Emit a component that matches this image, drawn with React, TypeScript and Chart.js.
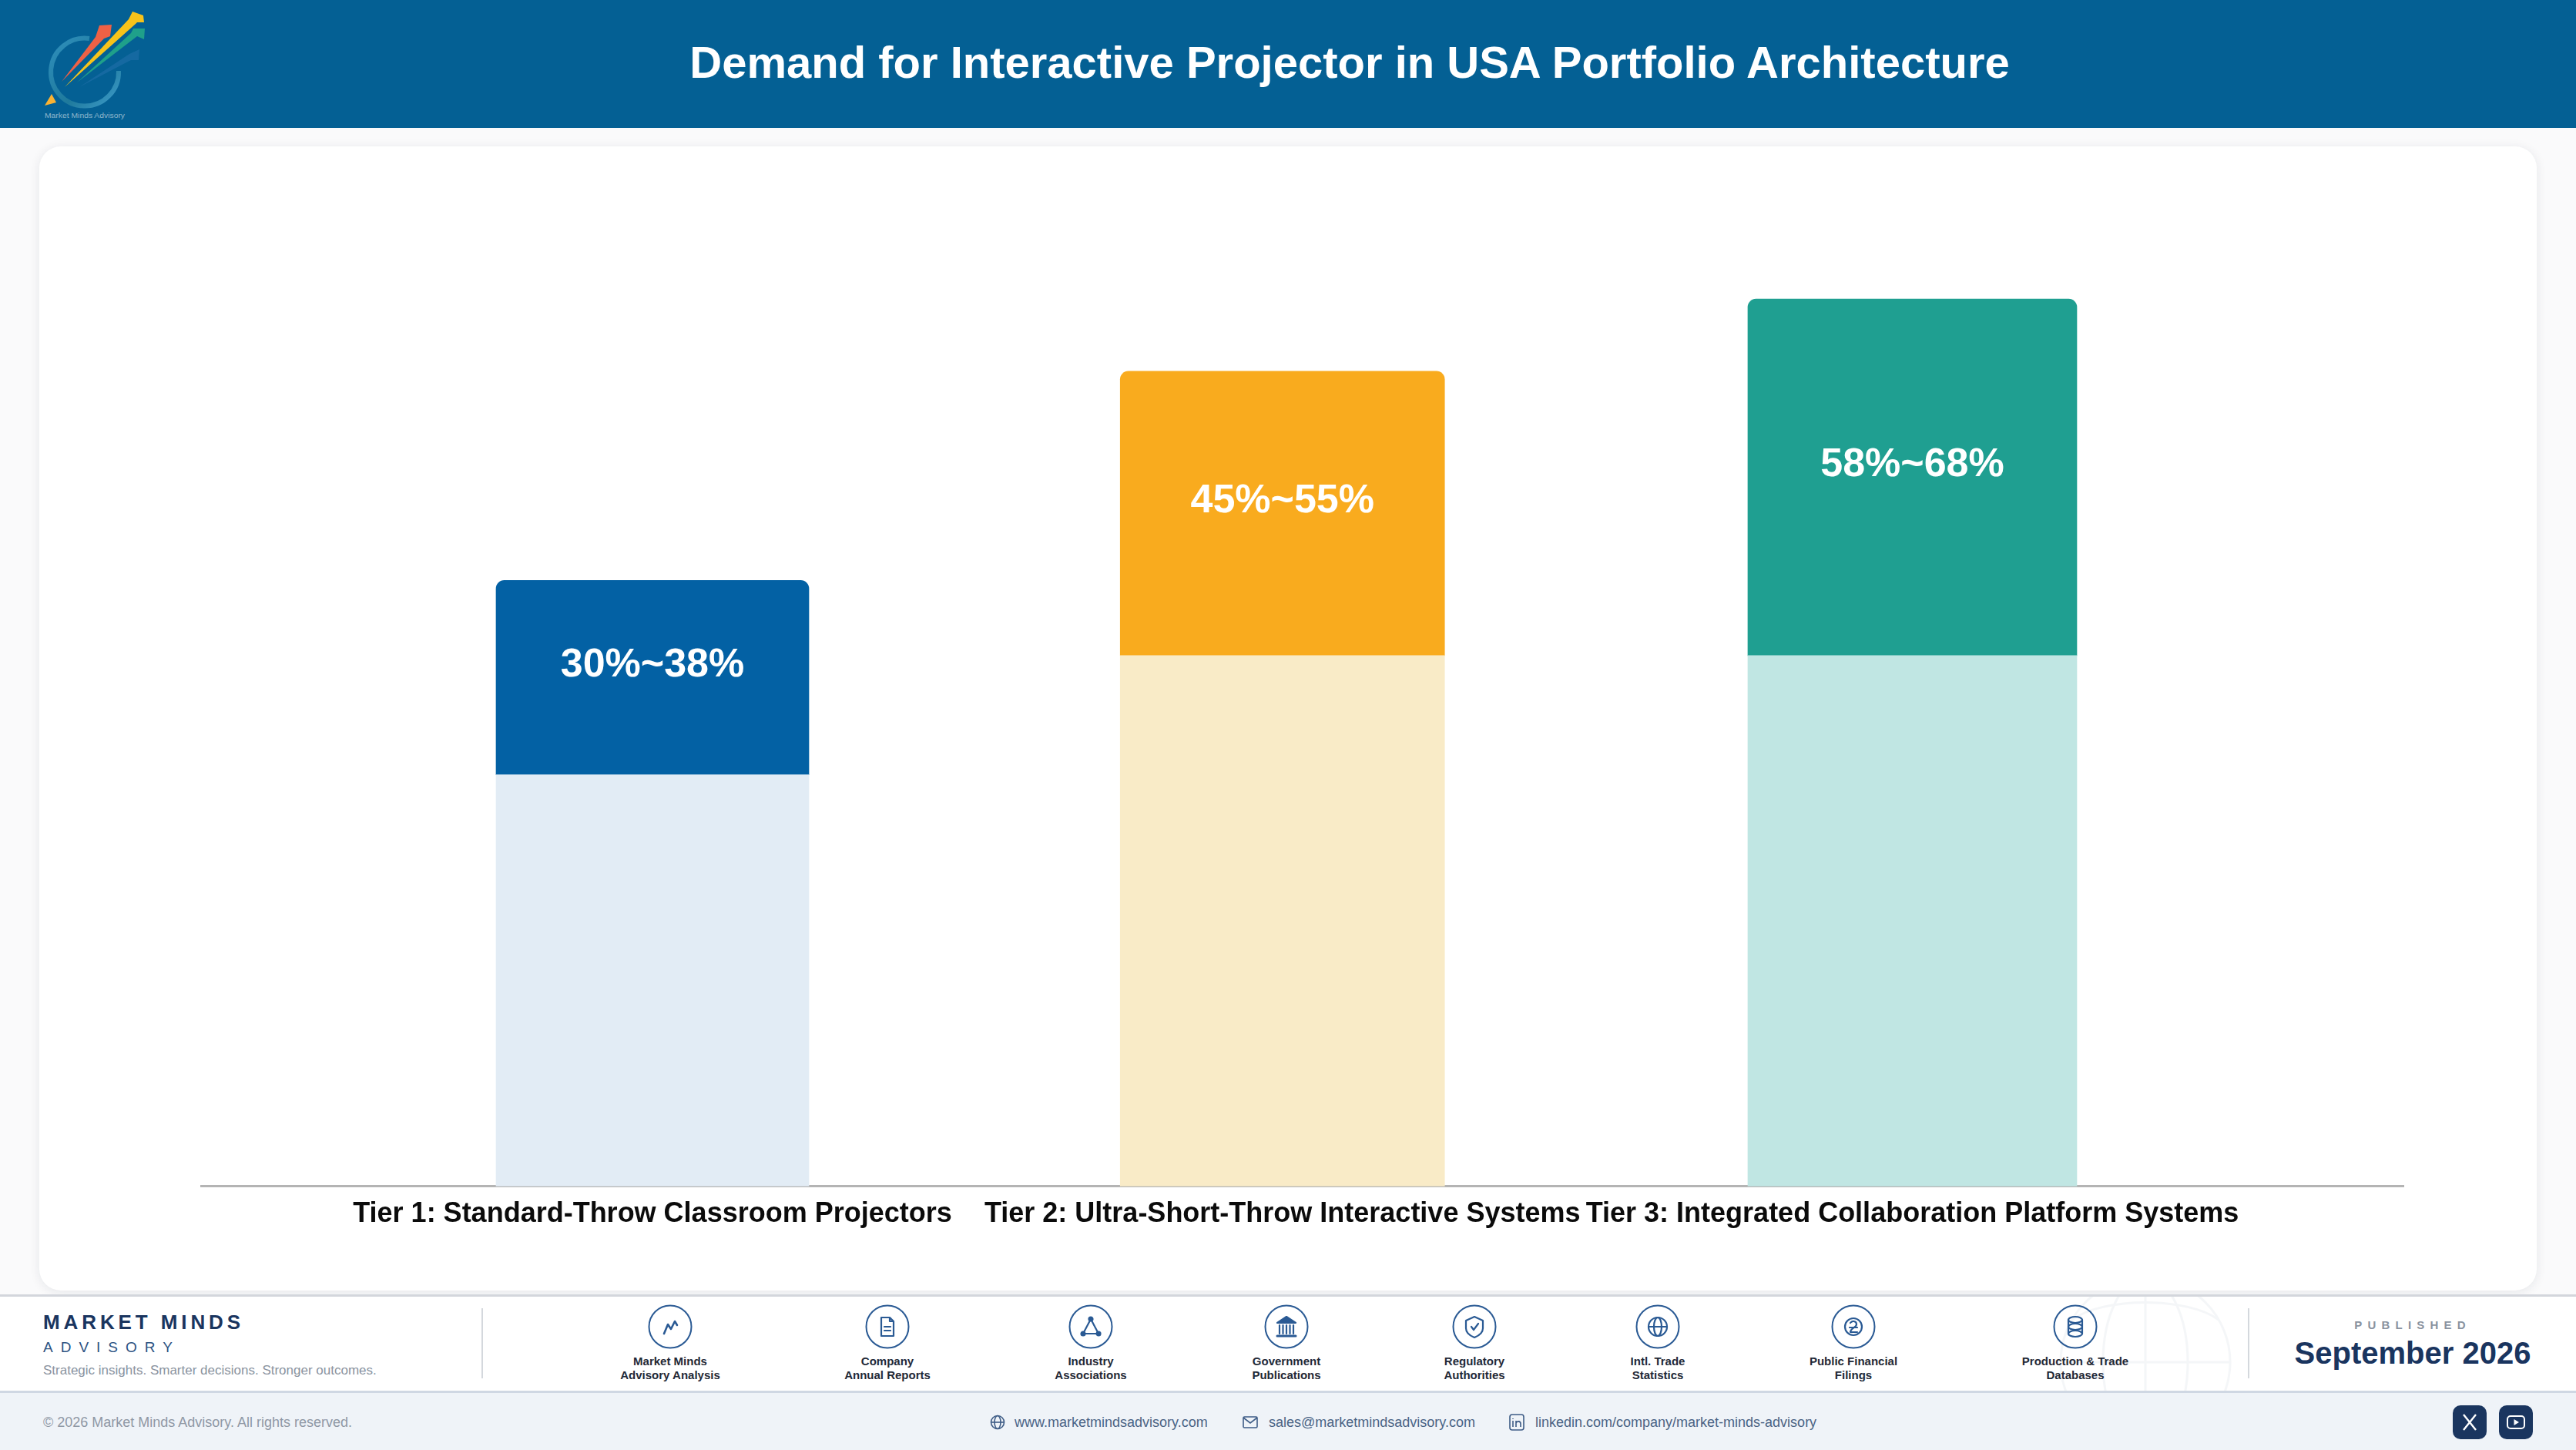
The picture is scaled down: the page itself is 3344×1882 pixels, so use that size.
import React, { useEffect, useRef } from "react";
import { Chart, registerables } from "chart.js";

Chart.register(...registerables);

const FONT = '"Liberation Sans", Arial, sans-serif';

const titleText = "Demand for Interactive Projector in USA Portfolio Architecture";
const tierLabels = [
  "Tier 1: Standard-Throw Classroom Projectors",
  "Tier 2: Ultra-Short-Throw Interactive Systems",
  "Tier 3: Integrated Collaboration Platform Systems",
];
const tierPositions = [1, 2, 3];
const rangeLabels = ["30%~38%", "45%~55%", "58%~68%"];
const lowerBlock = [41.1, 53, 53];
const upperBlock = [19.4, 28.4, 35.6];
const solidColors = ["#0361A4", "#F9AB1E", "#1F9F91"];
const paleColors = ["#E2ECF5", "#F9EBC7", "#C0E6E3"];
const barWidths = [406, 421, 427];

const sourceLabels = [
  ["Market Minds", "Advisory Analysis"],
  ["Company", "Annual Reports"],
  ["Industry", "Associations"],
  ["Government", "Publications"],
  ["Regulatory", "Authorities"],
  ["Intl. Trade", "Statistics"],
  ["Public Financial", "Filings"],
  ["Production & Trade", "Databases"],
];
const sourceCentres = [870, 1152, 1416, 1670, 1914, 2152, 2406, 2694];

const rangeLabelPlugin = {
  id: "rangeLabels",
  afterDatasetsDraw(chart: any) {
    const { ctx } = chart;
    ctx.save();
    ctx.fillStyle = "#FFFFFF";
    ctx.font = `bold 52px ${FONT}`;
    ctx.textAlign = "center";
    ctx.textBaseline = "middle";
    rangeLabels.forEach((label, i) => {
      const bar = chart.getDatasetMeta(i * 2 + 1).data[0];
      ctx.fillText(label, bar.x, (bar.y + bar.base) / 2 - 16);
    });
    ctx.restore();
  },
};

function TierChart() {
  const ref = useRef<HTMLCanvasElement>(null);
  useEffect(() => {
    const datasets: any[] = [];
    tierPositions.forEach((x, i) => {
      datasets.push({
        label: `${tierLabels[i]} base`,
        data: [{ x, y: lowerBlock[i] }],
        backgroundColor: paleColors[i],
        barThickness: barWidths[i],
        borderWidth: 0,
      });
      datasets.push({
        label: rangeLabels[i],
        data: [{ x, y: upperBlock[i] }],
        backgroundColor: solidColors[i],
        barThickness: barWidths[i],
        borderWidth: 0,
        borderRadius: { topLeft: 11, topRight: 11, bottomLeft: 0, bottomRight: 0 },
        borderSkipped: "bottom",
      });
    });
    const chart = new Chart(ref.current as HTMLCanvasElement, {
      type: "bar",
      data: { datasets },
      plugins: [rangeLabelPlugin],
      options: {
        responsive: false,
        animation: false,
        devicePixelRatio: 1,
        layout: { padding: { left: 210, right: 173, top: 50, bottom: 62 } },
        plugins: { legend: { display: false }, tooltip: { enabled: false } },
        scales: {
          x: {
            type: "linear",
            stacked: true,
            offset: false,
            min: 0.2834,
            max: 3.7796,
            afterBuildTicks(scale: any) {
              scale.ticks = tierPositions.map((value) => ({ value }));
            },
            grid: { display: false, drawTicks: false, offset: false },
            border: { display: true, color: "#B4B4B4", width: 3 },
            ticks: {
              autoSkip: false,
              maxRotation: 0,
              minRotation: 0,
              padding: 15,
              color: "#0B0B0B",
              font: { family: FONT, size: 36, weight: "bold" },
              callback: (_v: any, i: number) => tierLabels[i],
            },
          },
          y: {
            stacked: true,
            display: false,
            min: 0,
            max: 100,
            grid: { display: false },
          },
        },
      },
    } as any);
    return () => chart.destroy();
  }, []);
  return (
    <canvas
      ref={ref}
      width={3242}
      height={1485}
      style={{ position: "absolute", left: 51, top: 190, width: 3242, height: 1485 }}
    />
  );
}

function T({ x, y, size, color, bold, spacing, align = "left", children }: any) {
  const tx = align === "center" ? "-50%" : "0";
  return (
    <div
      style={{
        position: "absolute",
        left: x,
        top: y,
        transform: `translate(${tx},-50%)`,
        font: `${bold ? "bold " : ""}${size}px ${FONT}`,
        color,
        letterSpacing: spacing,
        whiteSpace: "nowrap",
        lineHeight: 1,
      }}
    >
      {children}
    </div>
  );
}

const ICON = "#2A5A94";
const sourceIcons = [
  <path d="M-8 9 L-3 -3 L1 3 L6 -7 L9 -2" strokeWidth="2.6" />,
  <g>
    <path d="M-8 -12 H3 L8 -7 V12 H-8 Z M3 -12 V-7 H8" />
    <path d="M-4 0 H4 M-4 5 H4" />
  </g>,
  <g>
    <path d="M0 -10 L-10 9 H10 Z" />
    <circle cx="0" cy="-10" r="2.5" fill={ICON} />
    <circle cx="-10" cy="9" r="2.5" fill={ICON} />
    <circle cx="10" cy="9" r="2.5" fill={ICON} />
  </g>,
  <g>
    <path d="M-12 -5 L0 -13 L12 -5 Z" fill={ICON} />
    <path d="M-9 -2 V9 M-4.5 -2 V9 M0 -2 V9 M4.5 -2 V9 M9 -2 V9" />
    <path d="M-12 12 H12" strokeWidth="3" />
  </g>,
  <g>
    <path d="M0 -13 L11 -8 V2 C11 8 5 12 0 14 C-5 12 -11 8 -11 2 V-8 Z" />
    <path d="M-4 0 L-1 4 L5 -4" />
  </g>,
  <g>
    <circle cx="0" cy="0" r="12" />
    <ellipse cx="0" cy="0" rx="5" ry="12" />
    <path d="M-12 0 H12" />
  </g>,
  <g>
    <circle cx="0" cy="0" r="11" />
    <path d="M-4 -5 C-2 -8 4 -8 4 -3 C4 1 -4 2 -4 7 H5 M-5 1 H5" />
  </g>,
  <g>
    <ellipse cx="0" cy="-9" rx="9" ry="4" />
    <ellipse cx="0" cy="0" rx="9" ry="4" />
    <ellipse cx="0" cy="9" rx="9" ry="4" />
    <path d="M-9 -9 V9 M9 -9 V9" />
  </g>,
];

function Logo() {
  return (
    <svg style={{ position: "absolute", left: 0, top: 0 }} width={240} height={166}>
      <defs>
        <linearGradient id="ring" x1="0" y1="0" x2="1" y2="1">
          <stop offset="0" stopColor="#2F8FBC" />
          <stop offset="0.6" stopColor="#1F7A9C" />
          <stop offset="1" stopColor="#3E9CCB" />
        </linearGradient>
      </defs>
      <path d="M116 50 A44 44 0 1 0 154 92" fill="none" stroke="url(#ring)" strokeWidth="6" />
      <path d="M103 113 L168 70 L181 64 L180 78 L170 78 Z" fill="#1D6EA6" opacity="0.7" />
      <path d="M100 107 L170 43 L173 37 L188 37 L187 51 L178 47 Z" fill="#1FA08A" />
      <path d="M84 113 L167 25 L172 15 L186 20 L187 29 L178 29 L176 31 Z" fill="#F7C31A" />
      <path d="M80 106 L124 48 L129 33 L145 32 L143 47 L135 50 Z" fill="#EE6145" />
      <path d="M58 137 L67 122 L73 133 Z" fill="#F9B233" />
      <text x="58" y="153" fill="#8FB7CC" fontFamily={FONT} fontSize="9" textLength="104" lengthAdjust="spacingAndGlyphs">
        Market Minds Advisory
      </text>
    </svg>
  );
}

function SmallIcon({ x, children }: any) {
  return (
    <svg
      style={{ position: "absolute", left: x - 12, top: 1834 }}
      width={24}
      height={24}
      viewBox="-12 -12 24 24"
      fill="none"
      stroke="#3E5C86"
      strokeWidth="1.6"
    >
      {children}
    </svg>
  );
}

export default function App() {
  useEffect(() => {
    document.body.style.margin = "0";
  }, []);
  return (
    <div
      style={{
        position: "absolute",
        left: 0,
        top: 0,
        width: 3344,
        height: 1882,
        overflow: "hidden",
        background: "#FAFAFB",
        fontFamily: FONT,
      }}
    >
      <div style={{ position: "absolute", left: 0, top: 0, width: 3344, height: 166, background: "#046094" }} />
      <Logo />
      <T x={1752} y={81} size={58} color="#FFFFFF" bold align="center">
        {titleText}
      </T>

      <div
        style={{
          position: "absolute",
          left: 51,
          top: 190,
          width: 3242,
          height: 1485,
          background: "#FFFFFF",
          borderRadius: 28,
          boxShadow: "0 2px 14px rgba(20,30,50,0.09)",
        }}
      />
      <TierChart />

      <div
        style={{
          position: "absolute",
          left: 0,
          top: 1680,
          width: 3344,
          height: 128,
          background: "#FFFFFF",
          borderTop: "3px solid #D3D6DC",
          borderBottom: "3px solid #CFD7E3",
          boxSizing: "border-box",
        }}
      />
      <svg
        style={{ position: "absolute", left: 2660, top: 1683, opacity: 0.4 }}
        width={250}
        height={122}
        viewBox="0 0 250 122"
        fill="none"
        stroke="#E6EAEE"
        strokeWidth="3"
      >
        <circle cx="125" cy="85" r="110" />
        <ellipse cx="125" cy="85" rx="55" ry="110" />
        <path d="M125 -25 V195 M15 85 H235" />
        <path d="M30 30 C70 0 180 0 220 30" />
      </svg>
      <div style={{ position: "absolute", left: 0, top: 1808, width: 3344, height: 74, background: "#EFF3F8" }} />

      <T x={56} y={1716} size={26} color="#1A355F" bold spacing="4.9px">MARKET MINDS</T>
      <T x={56} y={1748} size={19} color="#2C5282" spacing="10px">ADVISORY</T>
      <T x={56} y={1778} size={17} color="#8A93A0">Strategic insights. Smarter decisions. Stronger outcomes.</T>
      <div style={{ position: "absolute", left: 625, top: 1698, width: 2, height: 91, background: "#D4D8DD" }} />

      {sourceCentres.map((cx, i) => (
        <React.Fragment key={cx}>
          <svg
            style={{ position: "absolute", left: cx - 30, top: 1692 }}
            width={60}
            height={60}
            viewBox="-30 -30 60 60"
            fill="none"
            stroke={ICON}
            strokeWidth="2.2"
            strokeLinecap="round"
            strokeLinejoin="round"
          >
            <circle cx="0" cy="0" r="27.5" strokeWidth="2" />
            {sourceIcons[i]}
          </svg>
          <T x={cx} y={1766} size={15} color="#1F2937" bold align="center">{sourceLabels[i][0]}</T>
          <T x={cx} y={1784} size={15} color="#1F2937" bold align="center">{sourceLabels[i][1]}</T>
        </React.Fragment>
      ))}

      <div style={{ position: "absolute", left: 2918, top: 1698, width: 2, height: 91, background: "#D4D8DD" }} />
      <T x={3132} y={1719} size={15} color="#8A93A0" bold spacing="7.2px" align="center">PUBLISHED</T>
      <T x={3132} y={1756} size={40} color="#1A355F" bold align="center">September 2026</T>

      <T x={56} y={1846} size={18} color="#8F98A5">© 2026 Market Minds Advisory. All rights reserved.</T>
      <SmallIcon x={1295}>
        <circle r="8.5" />
        <ellipse rx="4" ry="8.5" />
        <path d="M-8.5 0 H8.5" />
      </SmallIcon>
      <T x={1317} y={1846} size={18} color="#4A6385">www.marketmindsadvisory.com</T>
      <SmallIcon x={1623}>
        <rect x="-9" y="-7" width="18" height="14" rx="1.5" />
        <path d="M-9 -6 L0 1 L9 -6" />
      </SmallIcon>
      <T x={1647} y={1846} size={18} color="#4A6385">sales@marketmindsadvisory.com</T>
      <SmallIcon x={1969}>
        <rect x="-9" y="-10" width="18" height="20" rx="3" />
        <path d="M-5 -2 V6 M-1 6 V-2 M-1 1 C0 -2 5 -2 5 2 V6 M-5 -5 V-4" />
      </SmallIcon>
      <T x={1993} y={1846} size={18} color="#4A6385">linkedin.com/company/market-minds-advisory</T>

      <svg style={{ position: "absolute", left: 3184, top: 1824 }} width={104} height={44}>
        <rect x="0" y="0" width="44" height="44" rx="10" fill="#1A355F" />
        <path d="M14 12 L30 32 M30 12 L14 32" stroke="#FFFFFF" strokeWidth="2.4" />
        <rect x="60" y="0" width="44" height="44" rx="10" fill="#1A355F" />
        <rect x="71" y="14" width="22" height="16" rx="4" fill="none" stroke="#FFFFFF" strokeWidth="2" />
        <path d="M79.5 18 L86 22 L79.5 26 Z" fill="#FFFFFF" />
      </svg>
    </div>
  );
}
